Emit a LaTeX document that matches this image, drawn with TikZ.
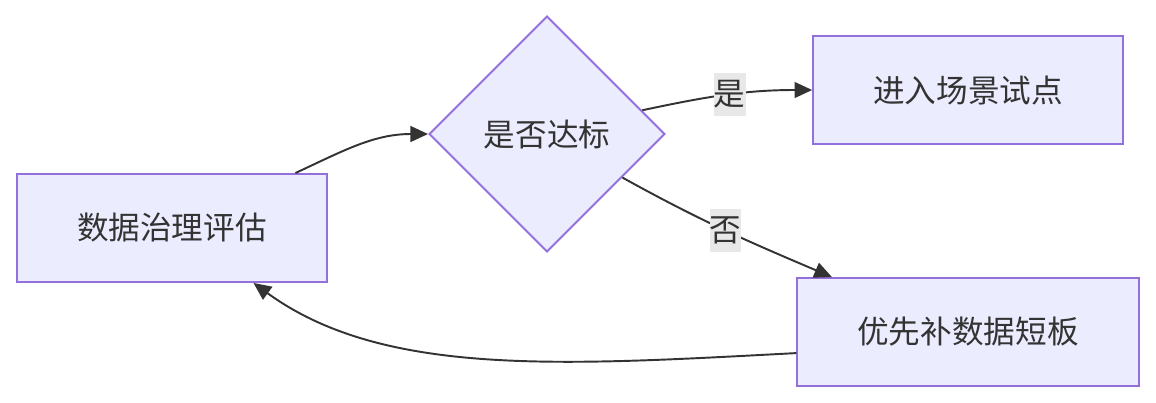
\documentclass[tikz,border=0pt]{standalone}
\usepackage{fontspec}
\setmainfont{Noto Sans CJK SC}
\usetikzlibrary{shapes.geometric,arrows.meta}
\definecolor{boxfill}{HTML}{ECECFF}
\definecolor{boxline}{HTML}{9370DB}
\definecolor{ink}{HTML}{333333}
\definecolor{lblbg}{HTML}{E8E8E8}

\begin{document}
\begin{tikzpicture}[->,>={Triangle[length=10pt,width=9pt]},line width=1.1pt,draw=ink,node distance=7.5cm,
    process/.style={rectangle,draw=boxline,fill=boxfill,line width=1.1pt,inner xsep=1.2cm,minimum height=2.16cm,text=ink,font=\fontsize{18}{22}\selectfont},
    decision/.style={diamond,aspect=1,draw=boxline,fill=boxfill,line width=1.1pt,inner sep=0pt,minimum size=4.72cm,text=ink,font=\fontsize{18}{22}\selectfont},
    lbl/.style={fill=lblbg,inner xsep=0pt,inner ysep=0.16cm,text=ink,font=\fontsize{18}{22}\selectfont}]

        \useasboundingbox (-3.44,-3.48) rectangle (19.68,4.56);

        \node[process] (eval) at (0,0) {数据治理评估};
        \node[decision] (check) [right of=eval, yshift=1.88cm] {是否达标};
        \node[process] (pilot) [right of=check, xshift=0.92cm, yshift=0.88cm] {进入场景试点};
        \node[process] (fix) [below of=pilot, yshift=2.66cm] {优先补数据短板};

        \path[ink]
        (eval.24.8) edge[out=25, in=180] (check.west)
        (check.14) edge[out=12, in=180] node[lbl, pos=0.52]{是} (pilot.west)
        (check.-30) edge[out=-29, in=157] node[lbl, pos=0.5]{否} (fix.158)
        (fix.187) edge[out=183, in=-36, out looseness=1.1, in looseness=0.75] (eval.-34)
        ;
    \end{tikzpicture}
\end{document}
